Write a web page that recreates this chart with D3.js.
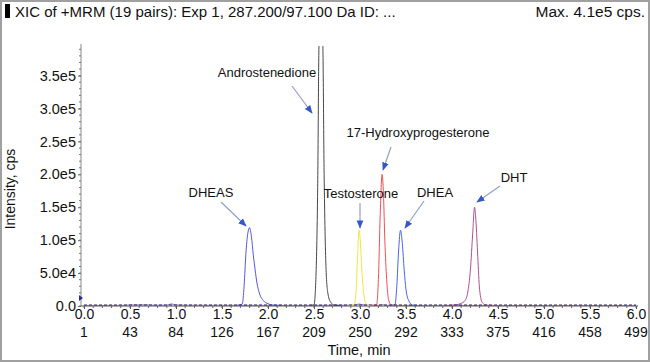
<!DOCTYPE html>
<html><head><meta charset="utf-8">
<script src="https://cdn.jsdelivr.net/npm/d3@7"></script>
<style>
body{margin:0;background:#fff;}
svg{display:block;font-family:"Liberation Sans",Arial,sans-serif;}
</style></head>
<body><svg id="c" width="650" height="362"></svg>
<script>
// ---- data ----
const xTicks = [0,0.5,1.0,1.5,2.0,2.5,3.0,3.5,4.0,4.5,5.0,5.5,6.0];
const scanLabels = [1,43,84,126,167,209,250,292,333,375,416,458,499];
const yTicks = [0,50000,100000,150000,200000,250000,300000,350000];
const yTickLabels = ["0.0","5.0e4","1.0e5","1.5e5","2.0e5","2.5e5","3.0e5","3.5e5"];

const baseT = [0,0.3,0.45,0.5,0.7,0.75,0.9,0.95,1.0,1.1,1.3,1.6,2.2,2.5,2.93,2.99,3.05,3.2,3.24,3.28,3.6,4.0,4.5,5.0,5.5,6.0];
const baseI = [800,900,1000,1600,1700,1100,1200,3200,1500,1100,1000,1000,900,900,1200,3000,1400,1000,2000,1000,900,900,800,800,800,800];

const dheasT = [1.66,1.72,1.74,1.76,1.78,1.80,1.82,1.84,1.86,1.88,1.91,1.95,2.00,2.07,2.14];
const dheasI = [900,3000,30000,80000,110000,119000,105000,78000,55000,35000,18000,8000,3500,1200,900];

const andT = [2.46,2.50,2.52,2.54,2.555,2.575,2.595,2.61,2.63,2.65,2.68,2.72,2.78];
const andI = [900,2000,40000,180000,400000,420000,400000,200000,60000,20000,6000,1500,900];

const testT = [2.88,2.94,2.96,2.975,2.99,3.005,3.02,3.04,3.06,3.09,3.13];
const testI = [800,2000,30000,80000,115000,95000,55000,20000,5000,1000,800];

const ohpT = [3.13,3.18,3.20,3.22,3.24,3.255,3.27,3.29,3.31,3.34,3.40];
const ohpI = [800,2000,40000,140000,200000,170000,100000,40000,10000,1500,800];

const dheaT = [3.33,3.38,3.40,3.42,3.44,3.46,3.48,3.50,3.53,3.57,3.62];
const dheaI = [800,2000,30000,85000,115000,95000,55000,25000,8000,1500,800];

const dhtT = [3.95,4.05,4.10,4.14,4.17,4.20,4.225,4.245,4.26,4.28,4.30,4.33,4.38,4.45];
const dhtI = [800,2000,4000,8000,20000,55000,110000,150000,130000,75000,25000,5000,1200,800];

const labels = ["DHEAS","Androstenedione","Testosterone","17-Hydroxyprogesterone","DHEA","DHT"];

// ---- layout ----
const svg = d3.select("#c");
const W = 650, H = 362;
const x = d3.scaleLinear().domain([0,6]).range([84,636]);
const y = d3.scaleLinear().domain([0,395000]).range([306,46]);

svg.append("rect").attr("x",1).attr("y",1).attr("width",W-2).attr("height",H-2)
  .attr("fill","#fff").attr("stroke","#a0a0a0").attr("stroke-width",2);

// title bar
svg.append("rect").attr("x",5).attr("y",4).attr("width",5).attr("height",14).attr("fill","#000");
svg.append("text").attr("x",15).attr("y",17).attr("font-size",15).attr("fill","#111")
  .text("XIC of +MRM (19 pairs): Exp 1, 287.200/97.100 Da ID: ...");
svg.append("text").attr("x",645).attr("y",17).attr("font-size",15.5).attr("fill","#111")
  .attr("text-anchor","end").text("Max. 4.1e5 cps.");

// clip
svg.append("clipPath").attr("id","pc").append("rect")
  .attr("x",82).attr("y",46).attr("width",560).attr("height",262);

// axes
const yAxis = d3.axisLeft(y).tickValues(yTicks).tickFormat((d,i)=>yTickLabels[i]).tickSize(3).tickPadding(2);
const gy = svg.append("g").attr("transform","translate(81,0)").call(yAxis);
gy.select(".domain").attr("d","M0,44V306").attr("stroke","#888");
gy.selectAll(".tick line").attr("stroke","#666");
gy.selectAll("text").attr("font-size",14.5).attr("fill","#111");
// y minor ticks
svg.append("g").selectAll("line").data(d3.range(0,395000,10000)).join("line")
  .attr("x1",79).attr("x2",81).attr("y1",d=>y(d)).attr("y2",d=>y(d)).attr("stroke","#777").attr("stroke-width",1);

const xAxis = d3.axisBottom(x).tickValues(xTicks).tickFormat(d3.format(".1f")).tickSize(3).tickPadding(0);
const gx = svg.append("g").attr("transform","translate(0,306)").call(xAxis);
gx.select(".domain").attr("d","M81,0H638").attr("stroke","#555");
gx.selectAll(".tick line").attr("stroke","#555");
gx.selectAll("text").attr("font-size",14).attr("fill","#111");
svg.append("g").selectAll("line").data(d3.range(0,60.5,1)).join("line")
  .attr("x1",d=>x(d/10)).attr("x2",d=>x(d/10)).attr("y1",306).attr("y2",308).attr("stroke","#666");
// scan number row
svg.append("g").selectAll("text").data(scanLabels).join("text")
  .attr("x",(d,i)=>x(xTicks[i])).attr("y",337).attr("text-anchor","middle")
  .attr("font-size",14).attr("fill","#111").text(d=>d);
svg.append("text").attr("x",359).attr("y",355).attr("text-anchor","middle")
  .attr("font-size",14.5).attr("fill","#111").text("Time, min");
svg.append("text").attr("transform","translate(15,189) rotate(-90)").attr("text-anchor","middle")
  .attr("font-size",14).attr("fill","#111").text("Intensity, cps");

// traces
const line = d3.line().x(d=>x(d[0])).y(d=>y(d[1])).curve(d3.curveMonotoneX);
const plot = svg.append("g").attr("clip-path","url(#pc)");
function trace(T,I,color,w){
  plot.append("path").datum(T.map((t,i)=>[t,I[i]])).attr("d",line)
    .attr("fill","none").attr("stroke",color).attr("stroke-width",w||1);
}
trace(baseT,baseI,"#8a6fa0",1);
trace(dheasT,dheasI,"#5656e0");
trace(andT,andI,"#484848");
trace(testT,testI,"#f0e640");
trace(ohpT,ohpI,"#f05050");
trace(dheaT,dheaI,"#4a64e6");
trace(dhtT,dhtI,"#b0508e");
// dark baseline
svg.append("line").attr("x1",84).attr("x2",636).attr("y1",305).attr("y2",305)
  .attr("stroke","#2a2a70").attr("stroke-width",1).attr("stroke-dasharray","3,2");

// small marker at axis origin
svg.append("path").attr("d","M79,295L83,298L79,301Z").attr("fill","#2030a0");

// annotations
const defs = svg.append("defs");
defs.append("marker").attr("id","ah").attr("viewBox","0 0 10 10").attr("refX",9).attr("refY",5)
  .attr("markerWidth",7).attr("markerHeight",7).attr("orient","auto")
  .append("path").attr("d","M0,1L10,5L0,9Z").attr("fill","#3558c8");
const ann = [
  {t:"DHEAS", tx:211, ty:197, a:[221,202,246,226]},
  {t:"Androstenedione", tx:267, ty:77, a:[292,86,312,113]},
  {t:"Testosterone", tx:361, ty:198, a:[360,203,360,228]},
  {t:"17-Hydroxyprogesterone", tx:418, ty:137, a:[391,147,383,170]},
  {t:"DHEA", tx:435, ty:197, a:[424,201,405,228]},
  {t:"DHT", tx:514, ty:182, a:[500,186,477,202]}
];
svg.append("g").selectAll("text").data(ann).join("text")
  .attr("x",d=>d.tx).attr("y",d=>d.ty).attr("text-anchor","middle")
  .attr("font-size",13).attr("fill","#111").text((d,i)=>labels[i]);
svg.append("g").selectAll("line").data(ann).join("line")
  .attr("x1",d=>d.a[0]).attr("y1",d=>d.a[1]).attr("x2",d=>d.a[2]).attr("y2",d=>d.a[3])
  .attr("stroke","#8fa0cc").attr("stroke-width",1.2).attr("marker-end","url(#ah)");
</script></body></html>
